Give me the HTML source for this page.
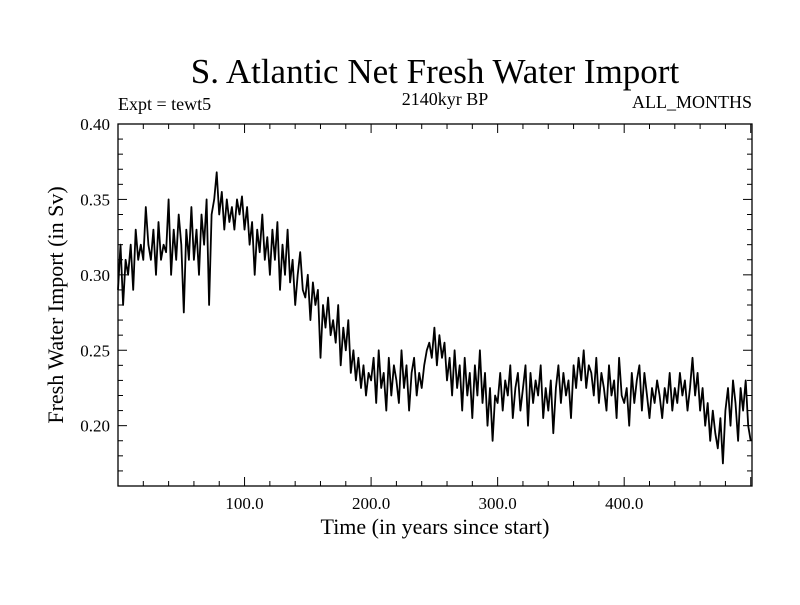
<!DOCTYPE html>
<html><head><meta charset="utf-8"><style>
body{margin:0;background:#fff;}
svg text{font-family:"Liberation Serif",serif;fill:#000;}
</style></head><body>
<svg id="chart" width="800" height="600" xmlns="http://www.w3.org/2000/svg">
<text x="435" y="83" font-size="35" text-anchor="middle">S. Atlantic Net Fresh Water Import</text>
<text x="118" y="110" font-size="18">Expt = tewt5</text>
<text x="445" y="105" font-size="18" text-anchor="middle">2140kyr BP</text>
<text x="752" y="108" font-size="18" text-anchor="end">ALL_MONTHS</text>
<text x="435" y="534" font-size="22" text-anchor="middle">Time (in years since start)</text>
<text transform="translate(63,305) rotate(-90)" font-size="22" text-anchor="middle">Fresh Water Import (in Sv)</text>
<g id="axes"></g>
<g id="plot"></g>
</svg>
<script>
const xTickValues=[100,200,300,400];
const xTickLabels=["100.0","200.0","300.0","400.0"];
const yTickValues=[0.20,0.25,0.30,0.35,0.40];
const yTickLabels=["0.20","0.25","0.30","0.35","0.40"];
const years=[];for(let i=0;i<=250;i++)years.push(i*2);
const flux=[
0.29,0.32,0.28,0.31,0.30,0.32,0.29,0.33,0.31,0.32,
0.31,0.345,0.32,0.31,0.33,0.30,0.335,0.31,0.32,0.315,
0.35,0.30,0.33,0.31,0.34,0.32,0.275,0.33,0.31,0.345,
0.31,0.33,0.30,0.34,0.32,0.35,0.28,0.34,0.35,0.368,
0.34,0.355,0.33,0.35,0.335,0.345,0.33,0.35,0.34,0.352,
0.33,0.345,0.32,0.335,0.30,0.33,0.315,0.34,0.31,0.325,
0.30,0.33,0.31,0.335,0.29,0.32,0.30,0.33,0.295,0.31,
0.28,0.30,0.315,0.29,0.285,0.30,0.27,0.295,0.28,0.29,
0.245,0.28,0.265,0.285,0.26,0.27,0.255,0.28,0.24,0.265,
0.25,0.27,0.235,0.25,0.23,0.245,0.225,0.24,0.22,0.235,
0.23,0.245,0.215,0.25,0.225,0.235,0.21,0.245,0.22,0.24,
0.23,0.215,0.25,0.225,0.24,0.21,0.235,0.245,0.22,0.235,
0.225,0.24,0.25,0.255,0.245,0.265,0.24,0.26,0.245,0.255,
0.23,0.245,0.22,0.25,0.225,0.24,0.21,0.245,0.22,0.235,
0.205,0.24,0.22,0.25,0.215,0.235,0.20,0.225,0.19,0.22,
0.215,0.235,0.21,0.23,0.22,0.24,0.205,0.225,0.235,0.21,
0.225,0.24,0.20,0.235,0.215,0.23,0.22,0.24,0.205,0.225,
0.21,0.23,0.195,0.225,0.24,0.215,0.235,0.22,0.23,0.205,
0.24,0.225,0.245,0.23,0.25,0.225,0.24,0.235,0.22,0.245,
0.215,0.235,0.225,0.21,0.24,0.22,0.23,0.205,0.245,0.22,
0.215,0.225,0.20,0.235,0.215,0.23,0.24,0.21,0.235,0.22,
0.205,0.225,0.215,0.23,0.22,0.205,0.225,0.215,0.235,0.21,
0.225,0.215,0.235,0.22,0.23,0.21,0.225,0.245,0.22,0.235,
0.21,0.225,0.20,0.215,0.19,0.21,0.195,0.185,0.205,0.175,
0.21,0.225,0.20,0.23,0.215,0.19,0.225,0.21,0.23,0.20,0.19];
const L=118,R=752,T=124,B=486,X0=0,X1=501,Y0=0.16,Y1=0.40;
const sx=v=>L+(v-X0)/(X1-X0)*(R-L);
const sy=v=>B-(v-Y0)/(Y1-Y0)*(B-T);
const NS="http://www.w3.org/2000/svg";
const axes=document.getElementById('axes'),plot=document.getElementById('plot');
function mk(tag,attrs,parent){const e=document.createElementNS(NS,tag);for(const k in attrs)e.setAttribute(k,attrs[k]);parent.appendChild(e);return e;}
const frame=mk('rect',{x:L,y:T,width:R-L,height:B-T,fill:'none',stroke:'#000','stroke-width':1.3},axes);


for(let v=20;v<X1;v+=20){const x=sx(v);const major=v%100===0;const len=major?9:5;
 const t1=mk('line',{x1:x,y1:B,x2:x,y2:B-len,stroke:'#000'},axes);
 
 
 const t2=mk('line',{x1:x,y1:T,x2:x,y2:T+len,stroke:'#000'},axes);
 
 }
for(let i=17;i<=40;i++){const v=i/100;const y=sy(v);const major=i%5===0;const len=major?9:5;
 const t1=mk('line',{x1:L,y1:y,x2:L+len,y2:y,stroke:'#000'},axes);
 
 
 const t2=mk('line',{x1:R,y1:y,x2:R-len,y2:y,stroke:'#000'},axes);
 
 }
xTickValues.forEach((v,i)=>{const t=mk('text',{x:sx(v),y:509,'font-size':17,'text-anchor':'middle'},axes);t.textContent=xTickLabels[i];
 
 });
yTickValues.forEach((v,i)=>{const t=mk('text',{x:110,y:sy(v)+6,'font-size':17,'text-anchor':'end'},axes);t.textContent=yTickLabels[i];
 
 });
const pts=flux.map((v,i)=>sx(years[i]).toFixed(1)+','+sy(v).toFixed(1)).join(' ');
const line=mk('polyline',{points:pts,fill:'none',stroke:'#000','stroke-width':1.8,'stroke-linejoin':'round'},plot);


</script>
</body></html>
